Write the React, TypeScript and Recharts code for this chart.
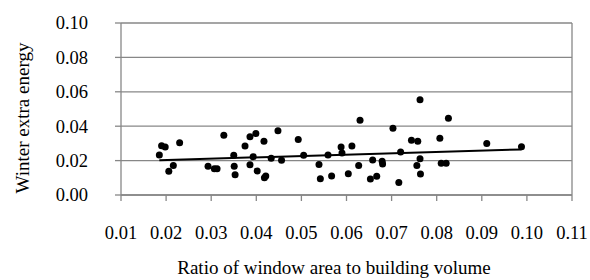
import { CartesianGrid, ReferenceLine, Scatter, ScatterChart, XAxis, YAxis } from "recharts";

// window area / building volume ratio
const RATIO = [
  0.0185, 0.019, 0.0198, 0.0206, 0.0216, 0.023, 0.0293, 0.0307, 0.0313, 0.0328,
  0.035, 0.0351, 0.0353, 0.0375, 0.0386, 0.0386, 0.0393, 0.0399, 0.0402, 0.0417,
  0.0418, 0.0421, 0.0433, 0.0448, 0.0456, 0.0493, 0.0505, 0.0539, 0.0542, 0.0559,
  0.0567, 0.0588, 0.059, 0.0604, 0.0612, 0.0627, 0.063, 0.0653, 0.0658, 0.0667,
  0.0679, 0.068, 0.0703, 0.0716, 0.072, 0.0744, 0.0756, 0.0758, 0.0763, 0.0763,
  0.0764, 0.0807, 0.081, 0.0821, 0.0826, 0.0911, 0.0988,
];

// winter extra energy
const ENERGY = [
  0.0233, 0.0287, 0.0279, 0.0138, 0.0172, 0.0304, 0.0167, 0.0153, 0.0153, 0.0347,
  0.0231, 0.0167, 0.0118, 0.0285, 0.0339, 0.0176, 0.0223, 0.0357, 0.014, 0.0312,
  0.0101, 0.011, 0.0213, 0.0374, 0.0202, 0.0322, 0.0231, 0.0178, 0.0095, 0.0233,
  0.011, 0.0279, 0.0244, 0.0124, 0.0285, 0.0171, 0.0434, 0.0093, 0.0203, 0.0109,
  0.0196, 0.018, 0.0388, 0.0072, 0.025, 0.0318, 0.0171, 0.0312, 0.0554, 0.0211,
  0.0122, 0.033, 0.0184, 0.0184, 0.0446, 0.03, 0.0281,
];

// linear trendline end points
const TREND_X = [0.0185, 0.0988];
const TREND_Y = [0.0202, 0.0265];

const X_TICKS = [0.01, 0.02, 0.03, 0.04, 0.05, 0.06, 0.07, 0.08, 0.09, 0.1, 0.11];
const Y_TICKS = [0, 0.02, 0.04, 0.06, 0.08, 0.1];

const points = RATIO.map((x, i) => ({ x, y: ENERGY[i] }));
const trend = TREND_X.map((x, i) => ({ x, y: TREND_Y[i] }));

const FONT = '"Liberation Serif", "Times New Roman", serif';
const GRAY = "#878787";
const FS = 18.5;

const Dot = (props: any) => <circle cx={props.cx} cy={props.cy} r={3.5} fill="#000" />;

const XTick = ({ x, y, payload }: any) => (
  <text x={x} y={y + 36} textAnchor="middle" fontFamily={FONT} fontSize={FS} fill="#000">
    {payload.value.toFixed(2)}
  </text>
);

const YTick = ({ x, y, payload }: any) => (
  <text x={88} y={y + 6.3} textAnchor="end" fontFamily={FONT} fontSize={FS} fill="#000">
    {payload.value.toFixed(2)}
  </text>
);

export default function App() {
  return (
    <div style={{ position: "absolute", left: 0, top: 0, width: 590, height: 280, background: "#fff" }}>
      <ScatterChart width={590} height={280} margin={{ top: 23, right: 18, bottom: 0, left: 0 }}>
        <CartesianGrid vertical={false} stroke={GRAY} strokeWidth={1.3} />
        <XAxis
          type="number"
          dataKey="x"
          domain={[0.01, 0.11]}
          ticks={X_TICKS}
          height={85}
          stroke={GRAY}
          strokeWidth={1.3}
          tickSize={6}
          tick={<XTick />}
        />
        <YAxis
          type="number"
          dataKey="y"
          domain={[0, 0.1]}
          ticks={Y_TICKS}
          width={121}
          stroke={GRAY}
          strokeWidth={1.3}
          tickSize={6}
          tick={<YTick />}
        />
        <ReferenceLine x={0.11} stroke={GRAY} strokeWidth={1.3} />
        <Scatter data={points} shape={Dot} isAnimationActive={false} />
        <Scatter
          data={trend}
          line={{ stroke: "#000", strokeWidth: 2 }}
          shape={() => <g />}
          isAnimationActive={false}
        />
      </ScatterChart>
      <svg width={590} height={280} style={{ position: "absolute", left: 0, top: 0, pointerEvents: "none" }}>
        <text x={334} y={274} textAnchor="middle" fontFamily={FONT} fontSize={19} fill="#000">
          Ratio of window area to building volume
        </text>
        <text
          transform="translate(29,118) rotate(-90)"
          textAnchor="middle"
          fontFamily={FONT}
          fontSize={19}
          fill="#000"
        >
          Winter extra energy
        </text>
      </svg>
    </div>
  );
}
